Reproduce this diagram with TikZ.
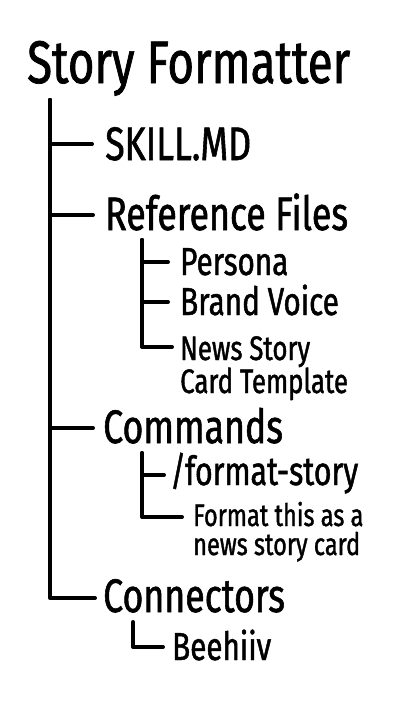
\documentclass[tikz,border=0pt]{standalone}
\usepackage{fontspec}
\setmainfont{Fira Sans}[FakeStretch=0.76, FakeBold=1.2]

\tikzset{
  item/.style={anchor=base west, inner sep=0pt},
  branch/.style={line width=4pt, line cap=round, line join=round},
}

\begin{document}
\begin{tikzpicture}[x=1pt, y=-1pt]
        \useasboundingbox (0,0) rectangle (400,716);

        % 标题
        \node[item, font=\fontsize{60}{60}\selectfont] (title) at (27,83) {Story Formatter};

        % 第一层
        \node[item, font=\fontsize{47}{47}\selectfont] (skill) at (105,160) {SKILL.MD};
        \node[item, font=\fontsize{47}{47}\selectfont] (refs) at (105,230) {Reference Files};
        \node[item, font=\fontsize{47}{47}\selectfont] (cmds) at (103,443) {Commands};
        \node[item, font=\fontsize{47}{47}\selectfont] (conn) at (103,612) {Connectors};

        % 第二层
        \node[item, font=\fontsize{39}{39}\selectfont] (persona) at (180,275) {Persona};
        \node[item, font=\fontsize{39}{39}\selectfont] (voice) at (180,315) {Brand Voice};
        \node[item, font=\fontsize{34}{34}\selectfont] (news) at (180,360) {News Story};
        \node[item, font=\fontsize{34}{34}\selectfont] (card) at (180,393) {Card Template};
        \node[item, font=\fontsize{40}{40}\selectfont] (fmt) at (170,485) {/format-story};
        \node[item, font=\fontsize{39}{39}\selectfont] (beehiiv) at (172,660) {Beehiiv};

        % 第三层
        \node[item, font=\fontsize{31}{31}\selectfont] (prompt) at (193,526) {Format this as a};
        \node[item, font=\fontsize{31}{31}\selectfont] (prompt2) at (193,555) {news story card};

        % 树枝
        \coordinate (stem) at (50,100);
        \coordinate (refstem) at (142,240);
        \coordinate (cmdstem) at (142,453);
        \coordinate (connstem) at (133,622);

        \draw[branch] (stem) |- ([xshift=-13pt, yshift=16pt]skill.base west);
        \draw[branch] (stem) |- ([xshift=-12pt, yshift=15pt]refs.base west);
        \draw[branch] (stem) |- ([xshift=-10pt, yshift=15pt]cmds.base west);
        \draw[branch] (stem) |- ([xshift=-8pt, yshift=14pt]conn.base west);

        \draw[branch] (refstem) |- ([xshift=-12pt, yshift=13pt]persona.base west);
        \draw[branch] (refstem) |- ([xshift=-12pt, yshift=13pt]voice.base west);
        \draw[branch] (refstem) |- ([xshift=-8pt, yshift=13pt]news.base west);

        \draw[branch] (cmdstem) |- ([xshift=-6pt, yshift=10pt]fmt.base west);
        \draw[branch] (cmdstem) |- ([xshift=-11pt, yshift=9pt]prompt.base west);

        \draw[branch] (connstem) |- ([xshift=-9pt, yshift=13pt]beehiiv.base west);
    \end{tikzpicture}
\end{document}
